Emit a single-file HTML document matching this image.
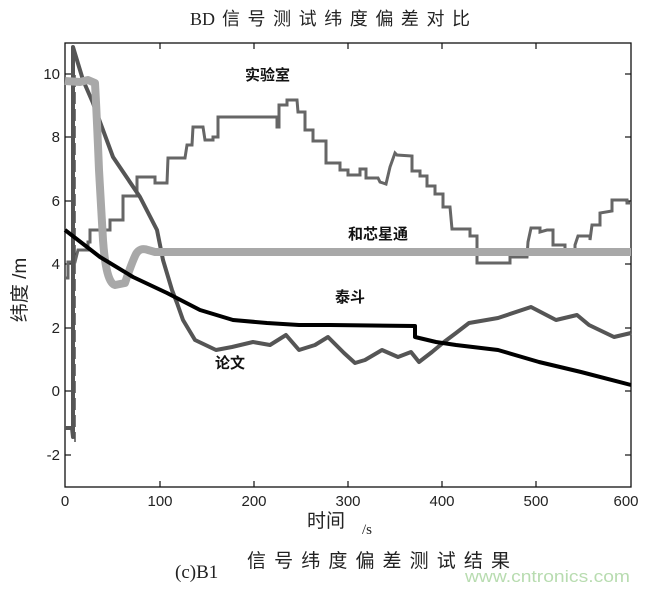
<!DOCTYPE html>
<html><head><meta charset="utf-8"><style>
body{margin:0;background:#fff;}
svg{display:block;font-family:"Liberation Sans","Noto Sans CJK SC",sans-serif;}
</style></head><body>
<svg width="649" height="589" viewBox="0 0 649 589" xmlns="http://www.w3.org/2000/svg">
<rect width="649" height="589" fill="#fff"/>
<text x="190" y="25" font-family="Liberation Serif,serif" font-size="18" fill="#222">BD</text>
<text x="222" y="25" font-size="18" fill="#222" textLength="248" lengthAdjust="spacing">信号测试纬度偏差对比</text>
<!-- frame -->
<rect x="65" y="43" width="566" height="444" fill="none" stroke="#111" stroke-width="1.3"/>
<g stroke="#111" stroke-width="1.2">
<line x1="160" y1="487" x2="160" y2="481"/><line x1="254" y1="487" x2="254" y2="481"/><line x1="348" y1="487" x2="348" y2="481"/><line x1="442" y1="487" x2="442" y2="481"/><line x1="536" y1="487" x2="536" y2="481"/>
<line x1="160" y1="43" x2="160" y2="49"/><line x1="254" y1="43" x2="254" y2="49"/><line x1="348" y1="43" x2="348" y2="49"/><line x1="442" y1="43" x2="442" y2="49"/><line x1="536" y1="43" x2="536" y2="49"/>
<line x1="65" y1="74" x2="71" y2="74"/><line x1="65" y1="137" x2="71" y2="137"/><line x1="65" y1="201" x2="71" y2="201"/><line x1="65" y1="264" x2="71" y2="264"/><line x1="65" y1="328" x2="71" y2="328"/><line x1="65" y1="391" x2="71" y2="391"/><line x1="65" y1="455" x2="71" y2="455"/>
<line x1="631" y1="74" x2="625" y2="74"/><line x1="631" y1="137" x2="625" y2="137"/><line x1="631" y1="201" x2="625" y2="201"/><line x1="631" y1="264" x2="625" y2="264"/><line x1="631" y1="328" x2="625" y2="328"/><line x1="631" y1="391" x2="625" y2="391"/><line x1="631" y1="455" x2="625" y2="455"/>
</g>
<g font-size="15" fill="#222" text-anchor="end">
<text x="60" y="79">10</text><text x="60" y="142">8</text><text x="60" y="206">6</text><text x="60" y="269">4</text><text x="60" y="333">2</text><text x="60" y="396">0</text><text x="60" y="460">-2</text>
</g>
<g font-size="15" fill="#222" text-anchor="middle">
<text x="65" y="506">0</text><text x="160" y="506">100</text><text x="254" y="506">200</text><text x="348" y="506">300</text><text x="442" y="506">400</text><text x="536" y="506">500</text><text x="626" y="506">600</text>
</g>
<text x="307" y="527" font-size="19" fill="#222">时间</text>
<text x="362" y="534" font-size="15" font-family="Liberation Serif,serif" fill="#222">/s</text>
<text transform="translate(26,290) rotate(-90)" font-size="19" fill="#222" text-anchor="middle">纬度 /m</text>
<text x="175" y="578" font-family="Liberation Serif,serif" font-size="19" fill="#222">(c)B1</text>
<text x="247" y="567" font-size="19" fill="#222" textLength="263" lengthAdjust="spacing">信号纬度偏差测试结果</text>
<text x="465" y="582" font-size="17" fill="#b8dcb0" textLength="165" lengthAdjust="spacingAndGlyphs">www.cntronics.com</text>
<!-- dashed line -->
<line x1="75" y1="75" x2="75" y2="442" stroke="#222" stroke-width="1.2" stroke-dasharray="12,5"/>
<!-- 实验室 staircase -->
<polyline fill="none" stroke="#666" stroke-width="3" points="65,278 68,278 68,262 75,262 78,250 88,250 88,242 90,242 90,230 110,230 110,220 123,220 123,196 137,196 137,177 155,177 155,183 167,183 168,158 185,158 187,145 192,145 193,127 203,127 205,140 213,140 213,137 218,137 218,117 277,117 277,127 279,127 279,105 287,105 287,100 297,100 298,112 305,112 305,130 313,130 313,141 326,141 326,163 340,163 340,170 348,170 348,175 360,175 360,169 366,169 366,178 378,178 380,182 386,184 390,167 395,153 397,155 412,156 412,171 420,171 420,176 427,176 427,186 435,186 435,194 443,194 443,207 450,207 452,229 470,229 470,236 477,236 477,263 510,263 510,257 527,257 528,242 531,228 540,228 540,232 547,230 553,230 553,245 565,245 565,250 575,250 575,245 578,236 590,236 590,240 592,225 600,225 600,213 612,211 612,200 627,200 627,203 631,203"/>
<!-- 论文 -->
<polyline fill="none" stroke="#555" stroke-width="4" stroke-linejoin="round" points="65,428 72,428 73,437 73,47 83,80 93,103 113,157 140,197 157,230 163,260 172,290 177,303 183,320 195,340 216,350 232,347 253,342 270,345 286,335 299,350 315,345 328,337 344,353 355,363 365,360 382,350 398,357 411,352 419,362 432,352 444,342 456,333 469,323 498,318 531,307 556,320 577,315 589,325 614,337 631,333"/>
<!-- 和芯星通 -->
<path fill="none" stroke="#a8a8a8" stroke-width="8" stroke-linejoin="round" d="M65,81 L80,82 L88,80 L95,83 Q97,120 99,170 L103,240 Q106,283 115,285 L125,283 Q132,262 136,254 Q140,247 148,250 L155,252 L631,252"/>
<!-- 泰斗 -->
<polyline fill="none" stroke="#000" stroke-width="4" stroke-linejoin="round" points="65,230 100,257 133,277 167,293 200,310 233,320 267,323 299,325 330,325 415,326 415,337 436,342 456,345 498,350 539,362 581,372 631,385"/>
<g font-size="15" fill="#111" font-weight="bold">
<text x="245" y="80">实验室</text>
<text x="348" y="239">和芯星通</text>
<text x="335" y="302">泰斗</text>
<text x="215" y="368">论文</text>
</g>
</svg>
</body></html>
